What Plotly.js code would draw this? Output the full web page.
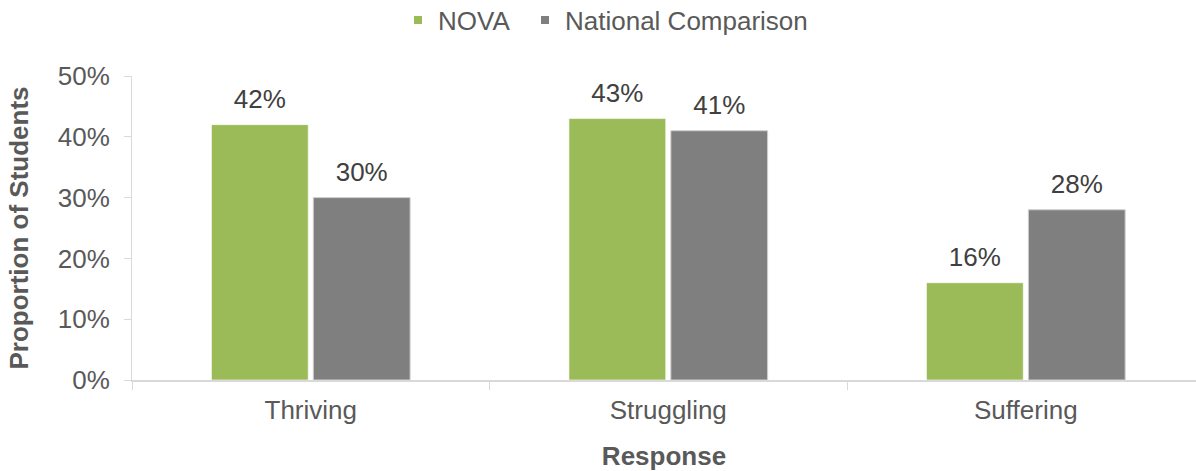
<!DOCTYPE html>
<html>
<head>
<meta charset="utf-8">
<script src="https://cdn.plot.ly/plotly-3.0.1.min.js"></script>
<style>
  html, body { margin: 0; padding: 0; background: #ffffff; }
  #chart { width: 1196px; height: 471px; }
</style>
</head>
<body>
<div id="chart"></div>
<script>
// Flourishing categories and the share of students in each
const categories = ["Thriving", "Struggling", "Suffering"];
const novaValues = [0.42, 0.43, 0.16];
const nationalValues = [0.30, 0.41, 0.28];
const yTickValues = [0, 0.1, 0.2, 0.3, 0.4, 0.5];
const yTickLabels = ["0%", "10%", "20%", "30%", "40%", "50%"];
const seriesNames = ["NOVA", "National Comparison"];
const seriesColors = ["#9BBB59", "#7F7F7F"];

const fontFamily = "Liberation Sans, Arial, sans-serif";
const textColor = "#595959";
const pct = v => Math.round(v * 100) + "%";
// value label in a large span, followed by a short spacer line that lifts it off the bar
const barLabel = v => "<span style='font-size:26px'>" + pct(v) + "</span><br>\u00a0";

function barTrace(name, values, color, edge) {
  return {
    type: "bar",
    name: name,
    x: categories,
    y: values,
    text: values.map(barLabel),
    textposition: "outside",
    cliponaxis: false,
    textfont: { family: fontFamily, size: 9, color: "#404040" },
    marker: { color: color, line: { color: edge, width: 1 } },
    showlegend: false,
    hoverinfo: "skip"
  };
}

// small square legend keys, each in its own legend box
function legendKey(name, color, legendId) {
  return {
    type: "scatter",
    mode: "markers",
    name: name,
    x: [null],
    y: [null],
    marker: { symbol: "square", size: 8, color: color },
    showlegend: true,
    legend: legendId,
    hoverinfo: "skip"
  };
}

const traces = [
  barTrace(seriesNames[0], novaValues, seriesColors[0], "rgba(255,255,255,0.6)"),
  barTrace(seriesNames[1], nationalValues, seriesColors[1], "#d0d0d0"),
  legendKey(seriesNames[0], seriesColors[0], "legend"),
  legendKey(seriesNames[1], seriesColors[1], "legend2")
];

function legendBox(xPx) {
  return {
    orientation: "h",
    xref: "container",
    yref: "container",
    x: xPx / 1196,
    xanchor: "left",
    y: 1 - 20 / 471,
    yanchor: "middle",
    font: { family: fontFamily, size: 26, color: textColor },
    bgcolor: "rgba(0,0,0,0)"
  };
}

const layout = {
  width: 1196,
  height: 471,
  margin: { l: 132, r: 0, t: 76, b: 91, autoexpand: false },
  paper_bgcolor: "#ffffff",
  plot_bgcolor: "#ffffff",
  font: { family: fontFamily, size: 26, color: textColor },
  barmode: "group",
  bargap: 0.43,
  bargroupgap: 0.05,
  showlegend: true,
  legend: legendBox(398),
  legend2: legendBox(525),
  xaxis: {
    type: "category",
    range: [-0.5, 2.476],
    showline: true,
    linecolor: "#d9d9d9",
    linewidth: 2,
    ticks: "outside",
    tickson: "boundaries",
    ticklen: 8,
    tickcolor: "#d9d9d9",
    tickwidth: 1,
    ticklabelstandoff: 6,
    showgrid: false,
    zeroline: false,
    tickfont: { family: fontFamily, size: 26, color: textColor },
    title: {
      text: "<b>Response</b>",
      font: { family: fontFamily, size: 26, color: textColor },
      standoff: 36
    }
  },
  yaxis: {
    range: [0, 0.5],
    tickvals: yTickValues,
    ticktext: yTickLabels,
    showline: true,
    linecolor: "#d9d9d9",
    linewidth: 1,
    ticks: "outside",
    ticklen: 7,
    tickcolor: "#d9d9d9",
    ticklabelstandoff: 9,
    showgrid: false,
    zeroline: false,
    tickfont: { family: fontFamily, size: 26, color: textColor },
    title: {
      text: "<b>Proportion of Students</b>",
      font: { family: fontFamily, size: 26, color: textColor },
      standoff: 21
    }
  }
};

Plotly.newPlot("chart", traces, layout, { displayModeBar: false, staticPlot: true });
</script>
</body>
</html>
